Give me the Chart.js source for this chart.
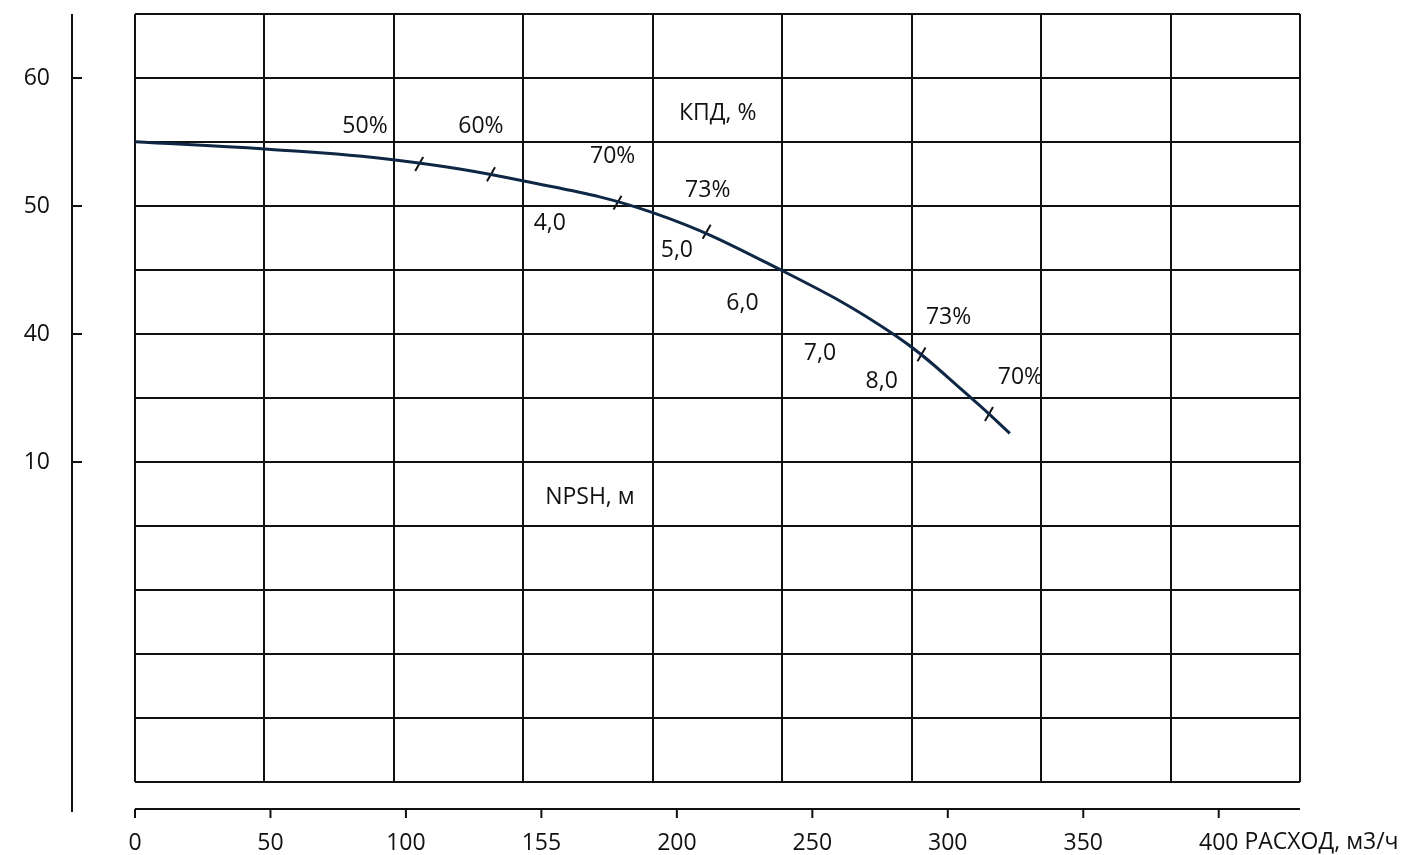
<!DOCTYPE html>
<html><head><meta charset="utf-8">
<script src="https://cdn.jsdelivr.net/npm/chart.js@4/dist/chart.umd.min.js"></script>
<style>html,body{margin:0;padding:0;background:#fff;}#wrap{width:1413px;height:855px;position:relative}</style>
</head><body><div id="wrap"><canvas id="c"></canvas></div>
<script>
// Head curve (flow m3/h, head m)
const flowQ = [0, 48, 96, 143.5, 191.1, 239.1, 280.4, 309.1, 322.9];
const headH = [55.02, 54.45, 53.59, 51.95, 49.48, 44.92, 39.92, 34.92, 32.24];
// Efficiency marks on the curve
const markQ = [104.9, 131.4, 178.1, 211, 290.3, 315.2];
const markH = [53.28, 52.48, 50.26, 47.99, 38.41, 33.75];
// Axis ticks
const xTickValues = [0, 50, 100, 150, 200, 250, 300, 350, 400];
const xTickLabels = ['0', '50', '100', '155', '200', '250', '300', '350', '400'];
const xAxisTitle = 'РАСХОД, м3/ч';
const yTickValues = [60, 50, 40, 30];
const yTickLabels = ['60', '50', '40', '10'];
// Annotations
const noteTexts = ['50%', '60%', 'КПД, %', '70%', '73%', '4,0', '5,0', '6,0', '7,0', '8,0', '73%', '70%', 'NPSH, м'];
const noteQ = [84.9, 127.7, 215.1, 176.3, 211.4, 153.1, 200.0, 224.2, 252.8, 275.6, 300.3, 326.8, 167.9];
const noteH = [56.2, 56.2, 57.2, 53.85, 51.2, 48.65, 46.5, 42.4, 38.5, 36.3, 41.3, 36.6, 27.2];
const gridColumns = 9;

const FONT = '"Open Sans", "Noto Sans", sans-serif';
const FSIZE = 23;
const INK = '#111111';

function noPad(s) { s.paddingTop = 0; s.paddingBottom = 0; s.paddingLeft = 0; s.paddingRight = 0; }

const decor = {
  id: 'decor',
  afterDraw(chart) {
    const ctx = chart.ctx, xs = chart.scales.x, ys = chart.scales.y, ca = chart.chartArea;
    ctx.save();
    ctx.strokeStyle = INK; ctx.lineWidth = 2; ctx.lineCap = 'butt';
    // Y axis line (offset left of plot)
    const ax = ca.left - 63;
    ctx.beginPath(); ctx.moveTo(ax, ca.top); ctx.lineTo(ax, ca.bottom + 30); ctx.stroke();
    yTickValues.forEach(v => { const p = ys.getPixelForValue(v); ctx.beginPath(); ctx.moveTo(ax, p); ctx.lineTo(ax + 10, p); ctx.stroke(); });
    // X axis line (offset below plot)
    const ay = ca.bottom + 27;
    ctx.beginPath(); ctx.moveTo(ca.left, ay); ctx.lineTo(ca.right, ay); ctx.stroke();
    xTickValues.forEach(v => { const p = xs.getPixelForValue(v); ctx.beginPath(); ctx.moveTo(p, ay); ctx.lineTo(p, ay + 9); ctx.stroke(); });
    // Annotations
    ctx.fillStyle = INK; ctx.font = FSIZE + 'px ' + FONT; ctx.textAlign = 'center'; ctx.textBaseline = 'middle';
    noteTexts.forEach((t, i) => ctx.fillText(t, xs.getPixelForValue(noteQ[i]), ys.getPixelForValue(noteH[i])));
    // Axis title after the last tick label
    const lastV = xTickValues[xTickValues.length - 1];
    const lastW = ctx.measureText(xTickLabels[xTickLabels.length - 1]).width;
    const sp = ctx.measureText(' ').width;
    ctx.textAlign = 'left';
    ctx.fillText(xAxisTitle, xs.getPixelForValue(lastV) + lastW / 2 + sp, ca.bottom + 60);
    ctx.restore();
  }
};

new Chart(document.getElementById('c'), {
  data: {
    datasets: [
      {
        type: 'line',
        data: flowQ.map((q, i) => ({ x: q, y: headH[i] })),
        borderColor: '#0e2745', borderWidth: 3, pointRadius: 0, fill: false,
        tension: 0.4, xAxisID: 'x', yAxisID: 'y'
      },
      {
        type: 'scatter',
        data: markQ.map((q, i) => ({ x: q, y: markH[i] })),
        pointStyle: 'line', pointRadius: 8, rotation: -60,
        borderColor: INK, borderWidth: 2, xAxisID: 'x', yAxisID: 'y'
      }
    ]
  },
  options: {
    responsive: true, maintainAspectRatio: false, animation: false,
    layout: { padding: { left: 0, top: 14, right: 113, bottom: 0 } },
    plugins: { legend: { display: false }, tooltip: { enabled: false } },
    scales: {
      x: {
        type: 'linear', position: 'bottom', min: 0, max: 430,
        grid: { display: false }, border: { display: false },
        afterBuildTicks: s => { s.ticks = xTickValues.map(v => ({ value: v })); },
        afterFit: s => { s.height = 73; noPad(s); },
        ticks: {
          autoSkip: false, maxRotation: 0, padding: 40, color: INK,
          font: { family: FONT, size: FSIZE },
          callback: v => { const k = xTickValues.indexOf(v); return k >= 0 ? xTickLabels[k] : ''; }
        }
      },
      xg: {
        type: 'linear', position: 'top', min: 0, max: gridColumns,
        grid: { color: INK, lineWidth: 2, drawTicks: false }, border: { display: false },
        afterFit: s => { s.height = 0; noPad(s); },
        ticks: { display: false, stepSize: 1 }
      },
      y: {
        type: 'linear', position: 'left', min: 5, max: 65,
        grid: { color: INK, lineWidth: 2, drawTicks: false }, border: { display: false },
        afterFit: s => { s.width = 135; noPad(s); },
        ticks: {
          stepSize: 5, autoSkip: false, padding: 85, color: INK,
          font: { family: FONT, size: FSIZE },
          callback: v => { const k = yTickValues.indexOf(v); return k >= 0 ? yTickLabels[k] : ''; }
        }
      }
    }
  },
  plugins: [decor]
});
</script></body></html>
